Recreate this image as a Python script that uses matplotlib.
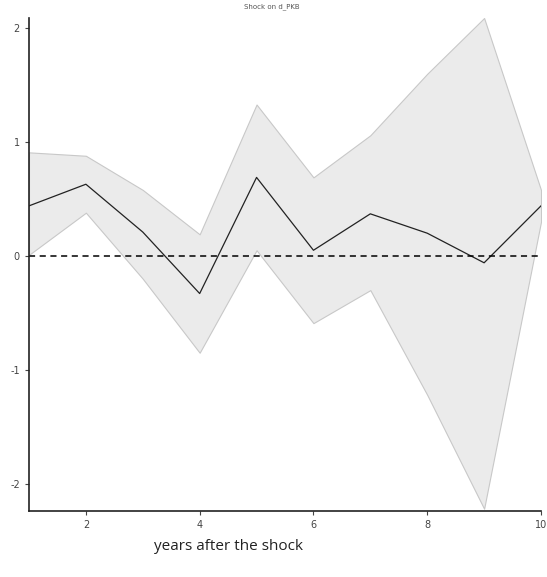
import numpy as np
import matplotlib.pyplot as plt

plt.rcParams['axes.unicode_minus'] = False

# impulse response values
years = [1, 2, 3, 4, 5, 6, 7, 8, 9, 10]
irf = [0.44, 0.63, 0.21, -0.33, 0.69, 0.05, 0.37, 0.20, -0.06, 0.44]
upper = [0.91, 0.88, 0.58, 0.19, 1.33, 0.69, 1.06, 1.60, 2.09, 0.58]
lower = [0.01, 0.38, -0.20, -0.85, 0.05, -0.59, -0.30, -1.22, -2.22, 0.30]
yticks = [-2, -1, 0, 1, 2]
xticks = [2, 4, 6, 8, 10]

fig = plt.figure(figsize=(5.47, 5.77), dpi=100)
ax = fig.add_axes([29 / 547, 1 - 511 / 577, (541 - 29) / 547, (511 - 18) / 577])

# confidence band
ax.fill_between(years, lower, upper, facecolor='#ebebeb', edgecolor='#c8c8c8', linewidth=0.8)
ax.plot(years, irf, color='#222222', linewidth=0.9)
ax.axhline(0, color='black', linestyle='--', linewidth=1.1, dashes=(4, 3))

ax.set_xlim(1, 10)
ax.set_ylim(-2.24, 2.09)
ax.set_xticks(xticks)
ax.set_yticks(yticks)
ax.tick_params(labelsize=7, colors='#444444', length=3, width=0.8)
for s in ['top', 'right']:
    ax.spines[s].set_visible(False)
for s in ['left', 'bottom']:
    ax.spines[s].set_linewidth(1.2)
    ax.spines[s].set_color('#222222')

fig.text(272 / 547, 1 - 7 / 577, 'Shock on d_PKB', ha='center', va='center', fontsize=5, color='#555555')
fig.text(228 / 547, 1 - 546 / 577, 'years after the shock', ha='center', va='center',
         fontsize=11, family='Open Sans', color='#222222')

plt.savefig('out.png', dpi=100)
